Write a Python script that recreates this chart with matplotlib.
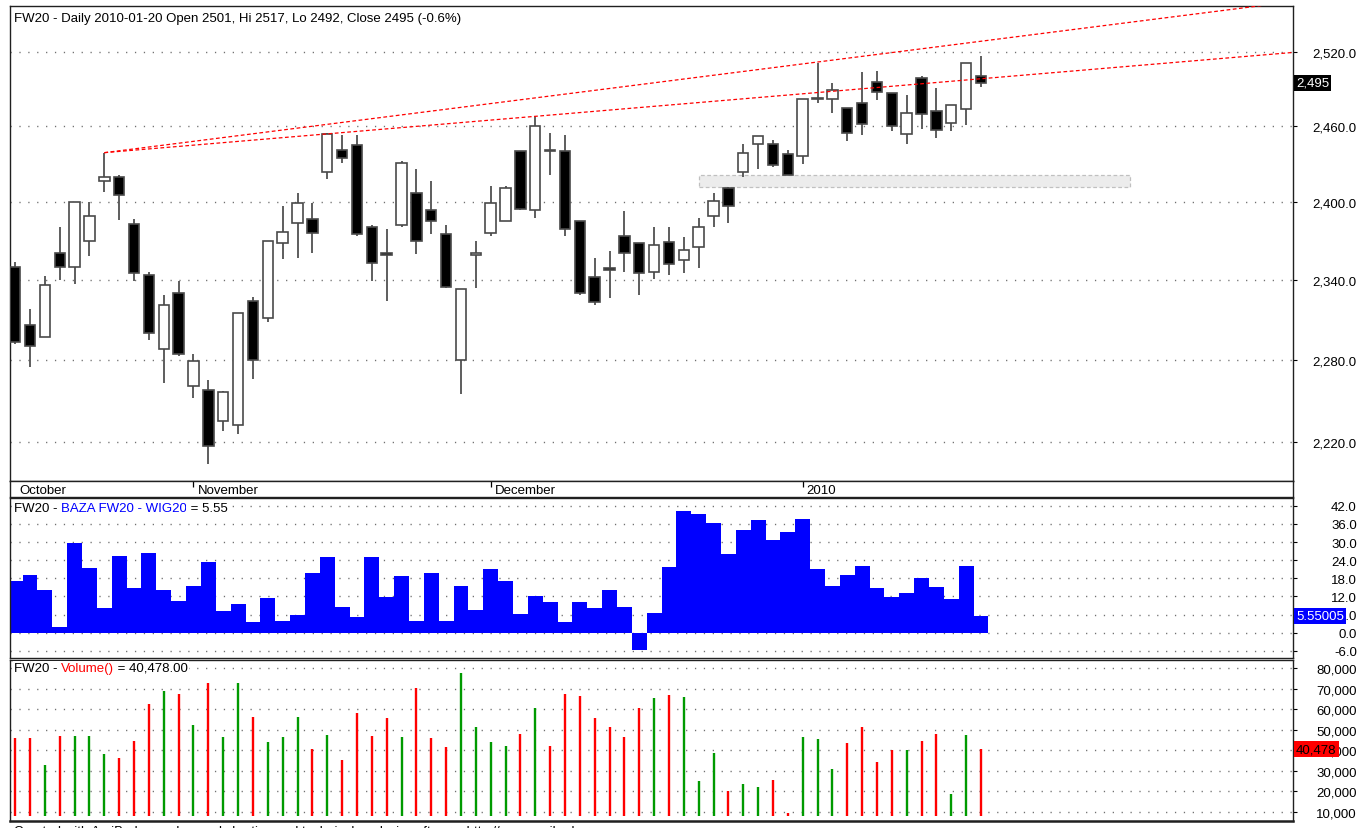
import numpy as np
import matplotlib
matplotlib.use('Agg')
import matplotlib.pyplot as plt
from matplotlib.patches import Rectangle
from matplotlib.ticker import NullLocator, NullFormatter
import matplotlib.transforms as mtransforms

plt.rcParams['font.family'] = ['Liberation Sans', 'DejaVu Sans']

# ---------------- data ----------------
opens = [2350, 2306, 2297, 2361, 2350, 2370, 2417, 2420, 2383, 2344,
         2288, 2330, 2261, 2258, 2235, 2232, 2324, 2311, 2368, 2384,
         2387, 2424, 2441, 2445, 2381, 2361, 2382, 2407, 2394, 2375,
         2280, 2359, 2376, 2385, 2440, 2394, 2441.5, 2440, 2385, 2342,
         2349.5, 2374, 2368, 2346, 2369, 2355, 2365, 2389, 2411, 2424,
         2446, 2446, 2438, 2436, 2482, 2482, 2475, 2479, 2496, 2487,
         2454, 2499, 2472, 2463, 2474, 2501]
highs = [2354, 2318, 2343, 2381, 2400, 2400, 2439, 2421, 2387, 2346,
         2329, 2339, 2284, 2265, 2257, 2315, 2327, 2370, 2397, 2407,
         2399, 2455, 2453, 2453, 2382, 2379, 2432, 2426, 2417, 2382,
         2333, 2370, 2413, 2413, 2440, 2468, 2455, 2453, 2385, 2357,
         2362, 2393, 2368, 2381, 2381, 2373, 2388, 2407, 2412, 2446,
         2452, 2449, 2441, 2482, 2511, 2495, 2475, 2504, 2505, 2487,
         2485, 2501, 2491, 2477, 2511, 2517]
lows = [2292, 2275, 2297, 2340, 2337, 2358, 2408, 2386, 2339, 2295,
        2263, 2283, 2252, 2204, 2228, 2226, 2266, 2308, 2356, 2357,
        2361, 2418, 2431, 2374, 2339, 2324, 2381, 2360, 2375, 2334,
        2255, 2334, 2374, 2385, 2394, 2388, 2421, 2374, 2329, 2321,
        2326, 2346, 2329, 2341, 2344, 2345, 2349, 2381, 2384, 2420,
        2426, 2428, 2421, 2430, 2479, 2471, 2448, 2453, 2481, 2456,
        2446, 2458, 2451, 2456, 2461, 2492]
closes = [2293, 2290, 2336, 2350, 2400, 2389, 2420, 2406, 2345, 2300,
          2321, 2284, 2279, 2217, 2256, 2315, 2280, 2370, 2377, 2399,
          2376, 2454, 2435, 2375, 2353, 2359, 2431, 2370, 2385, 2335,
          2333, 2361, 2399, 2411, 2395, 2460, 2440.5, 2379, 2330, 2323,
          2348, 2361, 2345, 2367, 2352, 2363, 2381, 2401, 2397, 2439,
          2452, 2429, 2421, 2482, 2483, 2489, 2455, 2462, 2488, 2460,
          2471, 2470, 2457, 2477, 2511, 2495]

basis = [17.2, 19.0, 14.2, 1.9, 29.8, 21.3, 8.1, 25.3, 14.8, 26.4,
         14.2, 10.5, 15.4, 23.4, 7.3, 9.5, 3.6, 11.4, 4.0, 5.9,
         19.8, 25.0, 8.4, 5.1, 25.0, 11.8, 18.7, 4.0, 19.8, 4.0,
         15.4, 7.6, 21.0, 17.2, 6.2, 12.2, 10.3, 3.6, 10.3, 8.1,
         14.2, 8.5, -5.8, 6.5, 21.7, 40.3, 39.4, 36.3, 26.1, 34.1,
         37.3, 30.8, 33.3, 37.7, 21.0, 15.4, 19.0, 22.0, 14.7, 11.8,
         13.1, 18.2, 15.0, 11.1, 22.0, 5.55005]

volume = [45700, 45700, 32700, 46900, 46900, 46900, 38200, 36000, 44300, 62500,
          68900, 67300, 52200, 72700, 46400, 72700, 56000, 44100, 46400, 56000,
          40400, 47300, 35000, 58100, 46900, 55500, 46400, 70100, 45700, 41300,
          77600, 51200, 44100, 42000, 47800, 60400, 42000, 67300, 66200, 55500,
          51200, 46400, 60400, 65200, 66800, 65700, 25100, 38600, 19900, 23600,
          22000, 25300, 9500, 46200, 45200, 30600, 43600, 51100, 34300, 39900,
          40200, 44600, 47800, 18600, 47300, 40478]

month_labels = ["October", "November", "December", "2010"]
month_idx = [0, 12, 32, 53]
month_tick_shown = [False, True, True, True]

price_ticks = [2220, 2280, 2340, 2400, 2460, 2520]
basis_ticks = [-6, 0, 6, 12, 18, 24, 30, 36, 42]
volume_ticks = [10000, 20000, 30000, 40000, 50000, 60000, 70000, 80000]

# trend lines: anchor points (bar index, price)
trend_lower = [(6, 2439), (35, 2468)]
trend_upper = [(6, 2439), (54, 2512)]
# shaded zone (bar from, bar to, price low, price high)
zone = (46, 75, 2412, 2421)

title_date = "2010-01-20"

# ---------------- layout ----------------
W, H = 1360, 829
fig = plt.figure(figsize=(W / 100, H / 100), dpi=100)
fig.patch.set_facecolor('white')

L_PX, R_PX = 10, 1293


def ax_px(top, bottom):
    return fig.add_axes([L_PX / W, 1 - bottom / H, (R_PX - L_PX) / W, (bottom - top) / H])


n = len(closes)
idx = np.arange(n)
xlim = (-0.35, 86.0)
FS = 9.5
GRID = dict(color='#707070', linestyle=(0, (0.9, 5.5)), linewidth=1.0)


def style_axis(ax, ticks, fmt):
    ax.set_xlim(*xlim)
    ax.set_xticks([])
    ax.yaxis.tick_right()
    ax.set_yticks(ticks)
    ax.yaxis.set_minor_locator(NullLocator())
    ax.yaxis.set_minor_formatter(NullFormatter())
    ax.set_yticklabels([fmt(t) for t in ticks])
    ax.tick_params(axis='y', which='major', direction='out', length=3, width=0.8,
                   pad=43, labelsize=FS, colors='black')
    for lab in ax.get_yticklabels():
        lab.set_horizontalalignment('right')
    for t in ticks:
        ax.axhline(t, zorder=0.5, **GRID)
    for s in ax.spines.values():
        s.set_color('#202020')
        s.set_linewidth(1.0)


# ---- price pane ----
axp = ax_px(7, 482)
axp.set_yscale('log')
axp.set_ylim(2191.9, 2558.2)
style_axis(axp, price_ticks, lambda v: f"{v:,.1f}")

bw = 0.7
for i in idx:
    o, h, l, c = opens[i], highs[i], lows[i], closes[i]
    axp.vlines(i, l, h, color='#505050', lw=1.3, zorder=2)
    lo, hi = min(o, c), max(o, c)
    fc = 'black' if c < o else 'white'
    axp.add_patch(Rectangle((i - bw / 2, lo), bw, hi - lo, facecolor=fc,
                            edgecolor='#4a4a4a', lw=1.2, zorder=3))

# trend lines (straight on the log scale)
for (i0, p0), (i1, p1) in (trend_lower, trend_upper):
    slope = (np.log(p1) - np.log(p0)) / (i1 - i0)
    xs = np.array([i0, xlim[1]])
    ys = np.exp(np.log(p0) + slope * (xs - i0))
    axp.plot(xs, ys, color='red', lw=0.9, linestyle=(0, (3, 2)), zorder=4)

# zone
axp.add_patch(Rectangle((zone[0], zone[2]), zone[1] - zone[0], zone[3] - zone[2],
                        facecolor='#ececec', edgecolor='#c0c0c0', lw=0.9,
                        linestyle=(0, (3, 2)), zorder=1))

pct = (closes[-1] / closes[-2] - 1) * 100
axp.text(4 / (R_PX - L_PX), 1 - 12 / 475,
         f"FW20 - Daily {title_date} Open {opens[-1]:.0f}, Hi {highs[-1]:.0f}, "
         f"Lo {lows[-1]:.0f}, Close {closes[-1]:.0f} ({pct:.1f}%)",
         transform=axp.transAxes, fontsize=FS, va='center', ha='left', color='black',
         zorder=6)

# ---- date strip ----
axd = ax_px(482, 498)
axd.set_xlim(*xlim)
axd.set_ylim(0, 1)
axd.set_xticks([])
axd.set_yticks([])
for s in axd.spines.values():
    s.set_color('#202020')
    s.set_linewidth(1.0)
for pos, lab, show in zip(month_idx, month_labels, month_tick_shown):
    if show:
        axd.vlines(pos, 0.62, 1.0, color='black', lw=0.9)
    axd.text(pos + 0.27, 0.42, lab, fontsize=FS, va='center', ha='left')

# ---- basis pane ----
axb = ax_px(499, 659)
axb.set_ylim(-8.38, 44.6)
style_axis(axb, basis_ticks, lambda v: f"{v:.1f}")
axb.bar(idx, basis, width=1.0, color='#0000ff', edgecolor='none', zorder=2)

# ---- volume pane ----
axv = ax_px(661, 822)
axv.set_ylim(5418, 83900)
style_axis(axv, volume_ticks, lambda v: f"{v:,.0f}")
axv.spines['bottom'].set_linewidth(1.8)
vbase = 8000
vcols = ['#009a00' if closes[i] > opens[i] else '#ff0000' for i in idx]
axv.vlines(idx, vbase, volume, colors=vcols, lw=1.7, zorder=2)

# ---- multi-colour pane titles ----
fig.canvas.draw()
renderer = fig.canvas.get_renderer()


def multi_text(x_px, y_px, parts):
    x = x_px
    for s, c in parts:
        t = fig.text(x / W, 1 - y_px / H, s, color=c, fontsize=FS, va='center', ha='left',
                     bbox=dict(facecolor='white', edgecolor='none', pad=0.5), zorder=6)
        bb = t.get_window_extent(renderer=renderer)
        x += bb.width


multi_text(14, 509, [("FW20 - ", 'black'), ("BAZA FW20 - WIG20", '#0000ff'),
                     (f" = {basis[-1]:.2f}", 'black')])
multi_text(14, 669, [("FW20 - ", 'black'), ("Volume()", '#ff0000'),
                     (f" = {volume[-1]:,.2f}", 'black')])

# ---- last value markers on the right ----
def marker(ax, val, text, fc, tc):
    tr = mtransforms.blended_transform_factory(ax.transAxes, ax.transData)
    ax.text(1.0 + 3 / (R_PX - L_PX), val, text, transform=tr, ha='left', va='center',
            fontsize=FS, color=tc, clip_on=False, zorder=20,
            bbox=dict(facecolor=fc, edgecolor='none', pad=1.6))


marker(axp, closes[-1], f"{closes[-1]:,.0f}", 'black', 'white')
marker(axb, basis[-1], f"{basis[-1]:.6g}", '#0000ff', 'white')
marker(axv, volume[-1], f"{volume[-1]:,.0f}", '#ff0000', 'black')

fig.text(14 / W, 1 - 832 / H,
         "Created with AmiBroker - advanced charting and technical analysis software. http://www.amibroker.com",
         fontsize=FS, va='center', ha='left', color='black')

fig.savefig('out.png', dpi=100)
